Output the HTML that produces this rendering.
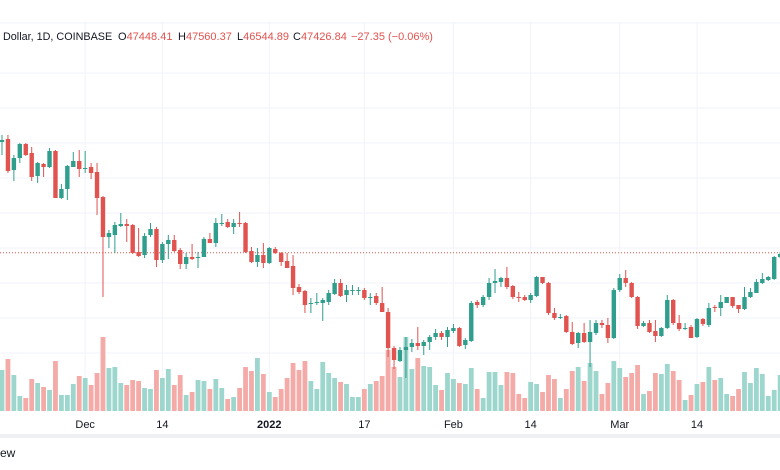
<!DOCTYPE html>
<html><head><meta charset="utf-8"><style>
body{margin:0;width:780px;height:470px;overflow:hidden;background:#fff;font-family:"Liberation Sans",sans-serif}
#c{position:absolute;left:0;top:0}
.t{position:absolute;font-size:11px;color:#131722;white-space:nowrap}
.r{color:#e0534f}
</style></head><body>
<svg id="c" width="780" height="470"></svg>
<div class="t" style="left:3px;top:31px;font-size:10.8px">Dollar, 1D, COINBASE</div>
<div class="t" style="left:118px;top:31px">O<span class="r">47448.41</span></div>
<div class="t" style="left:178px;top:31px">H<span class="r">47560.37</span></div>
<div class="t" style="left:237px;top:31px">L<span class="r">46544.89</span></div>
<div class="t" style="left:293px;top:31px">C<span class="r">47426.84</span></div>
<div class="t r" style="left:351px;top:31px">−27.35 (−0.06%)</div>
<div class="t" style="left:0;top:446px;font-size:12px">ew</div>
<script>
// prices in hundreds of USD
const opens=[585,588,557,569,583,574,551,563,560,576,529,538,560,566,558,560,555,530,490,492,501,503,502,475,472,492,498,467,483,487,477,463,470,469,470,488,484,503,505,500,504,504,476,465,472,464,478,474,466,461,440,436,423,424,424,425,433,444,432,436,436,437,429,431,424,415,379,366,377,380,384,381,385,390,394,390,396,399,382,386,425,422,430,444,445,449,441,430,430,427,431,450,444,414,409,411,395,384,394,385,394,404,402,389,437,449,444,430,401,404,396,391,399,427,404,398,400,390,408,402,420,419,424,430,422,418,430,434,444,447,448,470];
const closes=[587,556,569,583,572,550,564,560,576,529,538,561,566,558,559,554,529,490,494,502,503,501,474,471,491,498,467,483,487,476,463,470,468,470,488,484,504,504,500,504,503,475,465,472,464,479,474,465,459,439,435,422,424,425,427,434,444,431,437,437,437,429,430,424,415,379,367,377,380,384,381,385,390,394,390,397,399,381,387,424,422,430,444,446,449,440,430,429,427,432,450,444,414,409,410,395,383,394,385,395,404,402,389,437,449,444,430,401,404,395,391,399,427,404,398,399,389,408,403,419,419,425,430,421,418,430,435,445,448,450,470,473];
const highs=[592,592,572,584,584,580,565,564,579,577,543,562,575,577,576,564,564,531,497,505,514,508,503,499,494,504,500,485,492,492,479,474,483,475,490,494,509,513,508,508,515,505,480,479,484,480,480,475,474,472,443,437,429,434,429,437,448,448,442,442,440,439,434,434,440,419,381,380,390,388,400,387,392,398,396,400,403,400,389,426,427,432,449,458,450,460,442,435,432,434,451,450,445,419,413,412,405,395,404,407,407,407,409,439,453,457,445,431,406,407,407,400,432,428,412,404,402,409,409,424,422,432,430,430,422,440,439,448,454,451,471,475];
const lows=[572,554,546,564,571,546,544,550,559,529,528,527,560,550,554,548,512,430,479,474,500,485,473,470,469,490,460,464,468,475,458,458,467,459,470,484,480,501,499,493,500,474,464,460,459,463,473,461,459,432,433,414,414,422,406,422,432,430,425,432,432,427,422,422,415,370,358,365,349,375,377,372,377,387,387,380,394,380,378,385,419,420,427,434,440,438,428,425,426,424,430,443,412,407,408,394,382,379,384,360,392,399,384,388,435,440,429,398,400,394,385,390,398,402,396,397,389,389,401,400,415,411,424,419,414,417,429,434,443,446,447,469];
const volumes=[41,52,36,15,13,32,28,24,21,50,16,16,27,35,33,26,38,74,43,44,28,26,31,30,23,22,41,33,42,26,36,16,19,31,30,22,32,23,12,14,23,44,40,53,37,19,14,22,33,48,41,50,30,22,49,38,33,29,27,14,14,22,27,30,35,61,44,34,74,42,53,45,44,26,21,38,32,28,27,43,22,13,39,39,26,39,38,17,13,29,27,19,36,32,13,22,40,44,30,48,40,17,28,50,43,34,38,46,17,20,38,37,47,40,31,11,16,27,29,44,31,33,17,15,22,39,28,43,37,15,21,36];
const dateLabels=["Dec","14","2022","17","Feb","14","Mar","14"];
const dateIndex=[14,27,45,61,76,89,104,117];
const lastPrice=474.27;
const NS="http://www.w3.org/2000/svg";
const svg=document.getElementById('c');
const xAt=i=>2+i*5.94;
const yP=p=>727-p;
const yV=v=>411-v;
function mk(tag,attrs){const e=document.createElementNS(NS,tag);for(const k in attrs)e.setAttribute(k,attrs[k]);svg.appendChild(e);return e;}
for(let gy=73;gy<=353;gy+=35){const g=mk('line',{x1:0,x2:780,y1:gy,y2:gy,stroke:'#f0f3fa'});

}
dateIndex.forEach((di,k)=>{const x=xAt(di);const g=mk('line',{x1:x,x2:x,y1:22,y2:411,stroke:'#f0f3fa'});


const t=mk('text',{x:x,y:428,'text-anchor':'middle','font-size':11,'font-family':'Liberation Sans, sans-serif',fill:'#131722','font-weight':dateLabels[k]==='2022'?'bold':'normal'});t.textContent=dateLabels[k];

});
const headerLine=mk('line',{x1:0,x2:780,y1:23,y2:23,stroke:'#f0f3fa'});


volumes.forEach((v,i)=>{const up=closes[i]>=opens[i];const x=xAt(i);
const r=mk('rect',{x:x-2.4,y:yV(v),width:4.8,height:v,fill:up?'#9dd6cd':'#f4aaa7'});

});
const lp=mk('line',{x1:0,x2:780,y1:yP(lastPrice),y2:yP(lastPrice),stroke:'#e0534f','stroke-dasharray':'1 2','stroke-width':1});


opens.forEach((o,i)=>{const c=closes[i];const up=c>=o;const col=up?'#2f9e8d':'#e0534f';const x=xAt(i);
const w=mk('line',{x1:x,x2:x,y1:yP(highs[i]),y2:yP(lows[i]),stroke:col,'stroke-width':1});


const t=Math.min(yP(o),yP(c));const h=Math.max(1,Math.abs(yP(o)-yP(c)));
const b=mk('rect',{x:x-2.2,y:t,width:4.4,height:h,fill:col});

});
const sep=mk('rect',{x:0,y:434,width:780,height:4,fill:'#eef0f4'});


</script>
</body></html>
